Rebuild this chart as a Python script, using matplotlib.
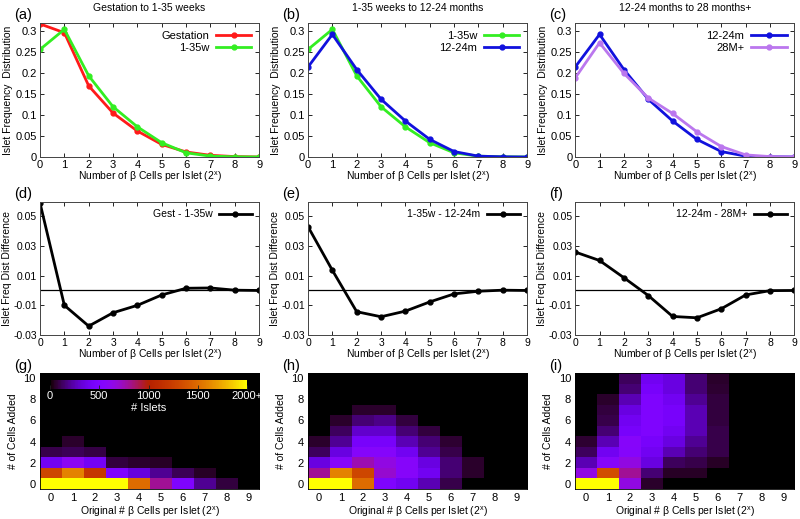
import matplotlib
matplotlib.use('Agg')
import matplotlib.pyplot as plt
import numpy as np

plt.rcParams['font.family'] = ['Liberation Sans', 'DejaVu Sans']
plt.rcParams['font.size'] = 7.5
plt.rcParams['mathtext.fontset'] = 'dejavusans'

# bins: log2 of number of beta cells per islet
xbins = np.arange(10)

# islet frequency distributions
gest = [0.318, 0.297, 0.170, 0.105, 0.062, 0.030, 0.012, 0.004, 0.001, 0.0]
w1_35 = [0.257, 0.305, 0.194, 0.120, 0.072, 0.034, 0.010, 0.002, 0.0005, 0.0]
m12_24 = [0.215, 0.293, 0.209, 0.138, 0.086, 0.042, 0.013, 0.002, 0.0005, 0.0]
m28 = [0.189, 0.273, 0.200, 0.141, 0.104, 0.060, 0.025, 0.005, 0.001, 0.0]

# differences
diff_d = [0.059, -0.010, -0.024, -0.015, -0.010, -0.003, 0.0015, 0.0017, 0.0002, 0.0]
diff_e = [0.043, 0.0136, -0.0143, -0.0177, -0.0139, -0.0077, -0.0023, -0.0005, 0.0002, 0.0]
diff_f = [0.0259, 0.0202, 0.0086, -0.0034, -0.0175, -0.0184, -0.0123, -0.003, -0.0001, 0.0]

# heatmaps: rows = cells added (0..10), columns = original bin (0..9)
heat_g = [
    [2600, 2600, 2600, 2600, 1500, 800, 500, 200, 80, 0],
    [1300, 1600, 1200, 500, 330, 200, 110, 50, 0, 0],
    [400, 600, 420, 80, 60, 50, 0, 0, 0, 0],
    [100, 110, 90, 0, 0, 0, 0, 0, 0, 0],
    [0, 60, 0, 0, 0, 0, 0, 0, 0, 0],
    [0] * 10, [0] * 10, [0] * 10, [0] * 10, [0] * 10, [0] * 10,
]
heat_h = [
    [2600, 2600, 1500, 500, 400, 250, 100, 0, 0, 0],
    [800, 1600, 1300, 700, 560, 400, 150, 60, 0, 0],
    [350, 560, 750, 650, 560, 350, 150, 60, 0, 0],
    [120, 350, 550, 550, 400, 200, 100, 0, 0, 0],
    [60, 200, 450, 450, 250, 150, 70, 0, 0, 0],
    [0, 120, 300, 300, 150, 80, 0, 0, 0, 0],
    [0, 60, 150, 180, 80, 0, 0, 0, 0, 0],
    [0, 0, 60, 60, 0, 0, 0, 0, 0, 0],
    [0] * 10, [0] * 10, [0] * 10,
]
heat_i = [
    [2600, 2600, 650, 60, 0, 0, 0, 0, 0, 0],
    [650, 1350, 800, 150, 50, 50, 0, 0, 0, 0],
    [250, 560, 650, 350, 120, 100, 50, 0, 0, 0],
    [120, 400, 550, 400, 250, 150, 100, 0, 0, 0],
    [70, 250, 560, 450, 350, 200, 100, 0, 0, 0],
    [0, 150, 450, 500, 400, 250, 100, 0, 0, 0],
    [0, 100, 400, 500, 450, 250, 80, 0, 0, 0],
    [0, 80, 350, 500, 450, 250, 80, 0, 0, 0],
    [0, 60, 250, 500, 400, 200, 80, 0, 0, 0],
    [0, 0, 150, 450, 350, 150, 70, 0, 0, 0],
    [0, 0, 120, 400, 350, 150, 60, 0, 0, 0],
]

RED = '#ff1a1a'
GREEN = '#33ee22'
BLUE = '#1111dd'
VIOLET = '#bb77ee'

fig = plt.figure(figsize=(8.0, 5.19), dpi=100)

lefts = [0.050, 0.385, 0.719]
width = 0.274
top_row = (0.6975, 0.258)
mid_row = (0.3545, 0.256)
bot_row = (0.0578, 0.2235)

xlab = r'Number of $\mathregular{\beta}$ Cells per Islet (2$^\mathregular{x}$)'
xlab_h = r'Original # $\mathregular{\beta}$ Cells per Islet (2$^\mathregular{x}$)'


def gp_style(ax, lsize=8):
    ax.tick_params(direction='in', top=True, right=True, length=3, width=0.6,
                   labelsize=lsize, pad=2)
    for sp in ax.spines.values():
        sp.set_linewidth(0.7)
        sp.set_color('#444444')


top_series = [
    ('Gestation to 1-35 weeks', [(gest, 'Gestation', RED), (w1_35, '1-35w', GREEN)]),
    ('1-35 weeks to 12-24 months', [(w1_35, '1-35w', GREEN), (m12_24, '12-24m', BLUE)]),
    ('12-24 months to 28 months+', [(m12_24, '12-24m', BLUE), (m28, '28M+', VIOLET)]),
]
letters_top = ['(a)', '(b)', '(c)']

for i, (title, series) in enumerate(top_series):
    ax = fig.add_axes([lefts[i], top_row[0], width, top_row[1]])
    for y, lab, col in series:
        ax.plot(xbins, y, '-o', color=col, lw=2, ms=3.5, label=lab)
    ax.set_xlim(0, 9)
    ax.set_ylim(0, 0.32)
    ax.set_xticks(xbins)
    ax.set_yticks([0, 0.05, 0.1, 0.15, 0.2, 0.25, 0.3])
    ax.set_yticklabels(['0', '0.05', '0.1', '0.15', '0.2', '0.25', '0.3'])
    ax.set_xlabel(xlab, labelpad=0)
    ax.set_ylabel('Islet Frequency  Distribution', labelpad=2)
    gp_style(ax)
    ax.legend(loc='upper right', frameon=False, markerfirst=False,
              handlelength=3.2, handletextpad=0.6, labelspacing=0.15,
              borderaxespad=0.3, fontsize=8)
    ax.set_title(title, fontsize=7.5, pad=9)
    ax.text(-0.12, 1.03, letters_top[i], transform=ax.transAxes, fontsize=10.5)

mid_series = [(diff_d, 'Gest - 1-35w'), (diff_e, '1-35w - 12-24m'),
              (diff_f, '12-24m - 28M+')]
letters_mid = ['(d)', '(e)', '(f)']

for i, (y, lab) in enumerate(mid_series):
    ax = fig.add_axes([lefts[i], mid_row[0], width, mid_row[1]])
    ax.axhline(0, color='black', lw=0.9)
    ax.plot(xbins, y, '-o', color='black', lw=2, ms=3.5, label=lab)
    ax.set_xlim(0, 9)
    ax.set_ylim(-0.03, 0.0595)
    ax.set_xticks(xbins)
    ax.set_yticks([-0.03, -0.01, 0.01, 0.03, 0.05])
    ax.set_yticklabels(['-0.03', '-0.01', '0.01', '0.03', '0.05'])
    ax.set_xlabel(xlab, labelpad=0)
    ax.set_ylabel('Islet Freq Dist Difference', labelpad=1)
    gp_style(ax, lsize=7.5)
    ax.legend(loc='upper right', frameon=False, markerfirst=False,
              handlelength=3.2, handletextpad=0.6, borderaxespad=0.3, fontsize=7.5)
    ax.text(-0.12, 1.03, letters_mid[i], transform=ax.transAxes, fontsize=10.5)

heats = [heat_g, heat_h, heat_i]
letters_bot = ['(g)', '(h)', '(i)']
for i, h in enumerate(heats):
    ax = fig.add_axes([lefts[i], bot_row[0], width, bot_row[1]])
    im = ax.imshow(np.array(h), origin='lower', cmap='gnuplot', vmin=0, vmax=2000,
                   aspect='auto', extent=(-0.5, 9.5, -0.5, 10.5),
                   interpolation='nearest')
    ax.set_xticks(xbins)
    ax.set_yticks([0, 2, 4, 6, 8, 10])
    ax.tick_params(length=0, labelsize=8, pad=3)
    ax.set_xlabel(xlab_h, labelpad=1)
    ax.set_ylabel('# of Cells Added', labelpad=4)
    for sp in ax.spines.values():
        sp.set_linewidth(0.6)
    ax.text(-0.12, 1.03, letters_bot[i], transform=ax.transAxes, fontsize=10.5)
    if i == 0:
        cax = ax.inset_axes([0.045, 0.865, 0.9, 0.078])
        cb = fig.colorbar(im, cax=cax, orientation='horizontal',
                          ticks=[0, 500, 1000, 1500, 2000])
        cb.outline.set_visible(False)
        cb.ax.set_xticklabels(['0', '500', '1000', '1500', '2000+'])
        cb.ax.tick_params(direction='in', colors='#222222', labelcolor='white',
                          length=3, width=0.6, labelsize=8, pad=2)
        cb.set_label('# Islets', color='white', fontsize=8, labelpad=1)

fig.savefig('out.png', dpi=100)
